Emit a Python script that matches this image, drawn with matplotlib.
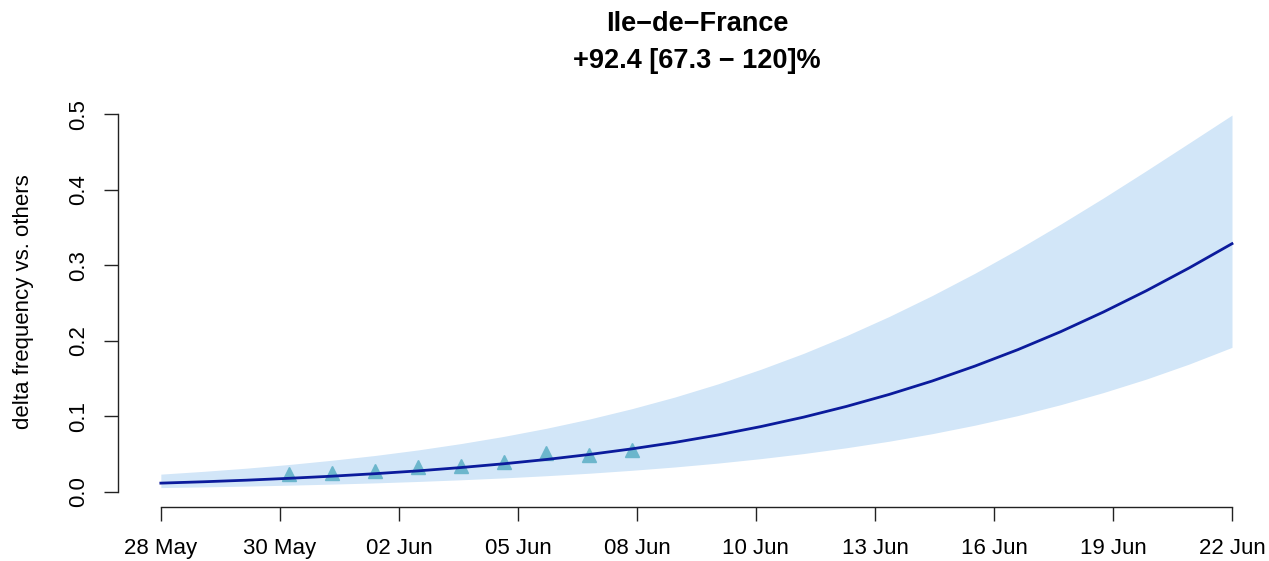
import matplotlib
matplotlib.use("Agg")
import matplotlib.pyplot as plt
import numpy as np

plt.rcParams['font.family'] = ['Liberation Sans', 'DejaVu Sans']

# days since 28 May
days = list(range(26))
fit_mid = [0.0116, 0.0134, 0.0155, 0.0180, 0.0208, 0.0241, 0.0278, 0.0322,
           0.0372, 0.0429, 0.0495, 0.0570, 0.0655, 0.0753, 0.0864, 0.0989,
           0.1131, 0.1290, 0.1467, 0.1665, 0.1882, 0.2120, 0.2381, 0.2662,
           0.2964, 0.3285]
fit_upper = [0.0235, 0.0272, 0.0314, 0.0363, 0.0419, 0.0482, 0.0555, 0.0639,
             0.0734, 0.0842, 0.0964, 0.1102, 0.1256, 0.1429, 0.1622, 0.1833,
             0.2067, 0.2322, 0.2598, 0.2894, 0.3210, 0.3544, 0.3891, 0.4251,
             0.4618, 0.4987]
fit_lower = [0.0057, 0.0066, 0.0077, 0.0089, 0.0103, 0.0119, 0.0138, 0.0160,
             0.0185, 0.0214, 0.0247, 0.0286, 0.0330, 0.0381, 0.0440, 0.0507,
             0.0584, 0.0671, 0.0770, 0.0883, 0.1010, 0.1154, 0.1315, 0.1493,
             0.1692, 0.1913]

# observed points (31 May .. 08 Jun)
obs_days = [3, 4, 5, 6, 7, 8, 9, 10, 11]
obs_freq = [0.024, 0.0245, 0.028, 0.033, 0.034, 0.040, 0.052, 0.049, 0.055]

tick_pos = np.linspace(0, 25, 10)
tick_labels = ['28 May', '30 May', '02 Jun', '05 Jun', '08 Jun',
               '10 Jun', '13 Jun', '16 Jun', '19 Jun', '22 Jun']
y_ticks = [0.0, 0.1, 0.2, 0.3, 0.4, 0.5]

W, H = 1269, 561
fig = plt.figure(figsize=(W / 100, H / 100), dpi=100)
ax = fig.add_axes([118 / W, (H - 507) / H, (W - 118) / W, (507 - 99) / H])

ax.fill_between(days, fit_lower, fit_upper, color='#d2e6f8', lw=0, zorder=1)
ax.plot(obs_days, obs_freq, ls='none', marker='^', ms=9.5,
        color='#6cb6cc', mec='#6cb6cc', zorder=2)
ax.plot(days, fit_mid, color='#0b1b9c', lw=2, zorder=3)

ax.set_xlim(-1, 25 + (W - 1232) / 42.84)
ax.set_ylim(-0.02, 0.52)

for s in ['top', 'right']:
    ax.spines[s].set_visible(False)
ax.spines['left'].set_bounds(0, 0.5)
ax.spines['bottom'].set_bounds(0, 25)
for s in ['left', 'bottom']:
    ax.spines[s].set_linewidth(1)
    ax.spines[s].set_color('#222222')

ax.set_xticks(tick_pos)
ax.set_xticklabels(tick_labels)
ax.set_yticks(y_ticks)
ax.set_yticklabels(['%.1f' % v for v in y_ticks], rotation=90, va='center')
ax.tick_params(axis='both', length=10, width=1, color='#222222',
               labelsize=16, labelcolor='black')
ax.tick_params(axis='x', pad=12)
ax.tick_params(axis='y', pad=11)

fig.text(24 / W, 1 - 302 / H, 'delta frequency vs. others', rotation=90,
         ha='center', va='center', fontsize=16)

fig.text(697 / W, 1 - 31 / H, 'Ile\u2212de\u2212France', ha='center',
         va='baseline', fontsize=19.5, fontweight='bold')
fig.text(697 / W, 1 - 68 / H, '+92.4 [67.3 \u2212 120]%', ha='center',
         va='baseline', fontsize=19.5, fontweight='bold')

fig.savefig('out.png', dpi=100)
